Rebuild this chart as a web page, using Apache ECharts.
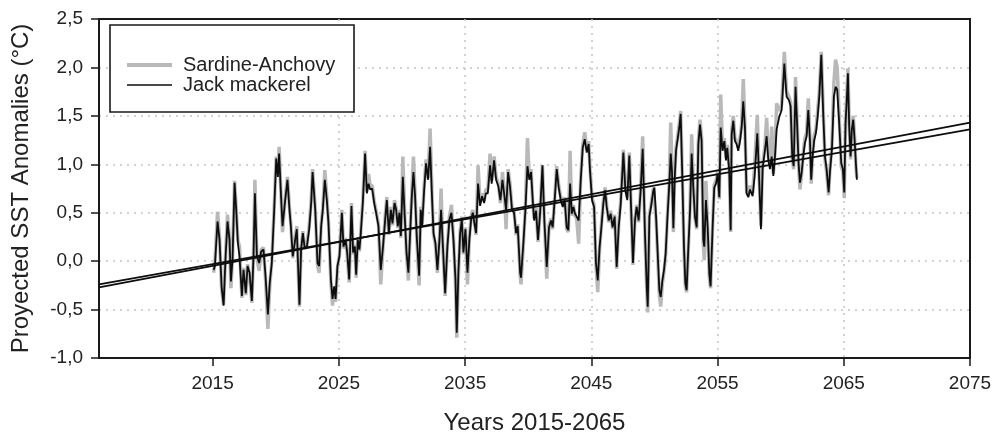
<!DOCTYPE html>
<html>
<head>
<meta charset="utf-8">
<script src="https://cdn.jsdelivr.net/npm/echarts@6/dist/echarts.min.js"></script>
<style>
  html, body { margin: 0; padding: 0; background: #fff; }
  #chart { width: 993px; height: 433px; }
</style>
</head>
<body>
<div id="chart"></div>
<script>
// Projected SST anomalies (°C), 2015-2066, two fishing regions
const years = [
  2015.08,2015.18,2015.39,2015.55,2015.71,2015.87,2016.03,2016.18,2016.34,2016.45,2016.58,2016.74,2016.87,
  2017.00,2017.13,2017.32,2017.45,2017.63,2017.77,2017.93,2018.11,2018.24,2018.35,2018.51,2018.69,2018.85,
  2019.03,2019.19,2019.38,2019.53,2019.69,2019.88,2020.04,2020.17,2020.27,2020.41,2020.54,2020.75,2020.93,
  2021.09,2021.20,2021.35,2021.54,2021.67,2021.88,2022.01,2022.15,2022.28,2022.46,2022.65,2022.81,2022.92,
  2023.13,2023.31,2023.44,2023.60,2023.73,2023.89,
  2024.05,2024.18,2024.37,2024.50,2024.63,2024.74,2024.89,
  2025.05,2025.24,2025.37,2025.53,2025.66,2025.82,
  2026.00,2026.13,2026.27,2026.37,2026.50,2026.63,2026.74,2026.90,
  2027.08,2027.22,2027.35,2027.48,2027.64,2027.80,2027.95,
  2028.14,2028.32,2028.48,2028.67,2028.80,2028.96,
  2029.12,2029.25,2029.41,2029.54,2029.67,2029.80,2029.91,
  2030.07,2030.22,2030.36,2030.51,2030.65,2030.78,2030.91,
  2031.04,2031.17,2031.36,2031.49,
  2031.60,2031.76,2031.91,
  2032.07,2032.23,2032.39,2032.50,2032.65,2032.81,2032.97,
  2033.10,2033.23,2033.42,2033.60,2033.76,2033.92,
  2034.08,2034.24,2034.34,2034.47,2034.61,2034.74,2034.87,
  2035.03,2035.19,2035.34,2035.48,2035.61,2035.74,2035.87,
  2036.03,2036.19,2036.35,2036.51,2036.64,2036.80,2036.98,
  2037.11,2037.30,2037.46,2037.64,2037.80,2037.96,
  2038.12,2038.25,2038.41,2038.56,2038.72,2038.88,
  2039.04,2039.17,2039.36,2039.43,2039.62,2039.78,2039.94,
  2040.09,2040.23,2040.36,
  2040.47,2040.62,2040.78,2040.94,
  2041.13,2041.28,2041.47,2041.65,2041.81,2041.94,
  2042.10,2042.26,2042.42,2042.58,2042.74,2042.89,
  2043.05,2043.18,2043.32,2043.45,2043.58,2043.71,2043.84,
  2044.00,2044.16,2044.32,2044.48,2044.64,2044.79,2044.90,
  2045.06,2045.22,2045.37,2045.51,2045.66,2045.80,2045.95,
  2046.09,2046.22,2046.38,2046.53,2046.69,2046.85,
  2047.01,2047.17,2047.33,2047.54,2047.70,2047.85,
  2048.01,2048.17,2048.30,2048.46,2048.59,2048.75,2048.91,
  2049.07,2049.26,2049.39,2049.47,2049.60,2049.73,2049.92,
  2050.00,2050.13,2050.26,2050.39,2050.50,2050.63,2050.76,2050.89,
  2051.02,2051.18,2051.29,2051.39,2051.50,2051.60,2051.71,2051.82,2051.97,
  2052.08,2052.21,2052.34,2052.45,2052.55,2052.69,2052.82,2052.95,
  2053.08,2053.21,2053.35,2053.48,2053.61,2053.74,2053.87,2053.95,
  2054.08,2054.22,2054.35,2054.45,2054.61,2054.74,2054.88,
  2055.01,2055.14,2055.25,2055.40,2055.54,2055.67,2055.77,2055.93,
  2056.04,2056.12,2056.25,2056.38,2056.51,2056.64,2056.78,2056.91,
  2057.04,2057.17,2057.30,2057.44,
  2057.57,2057.78,2057.94,
  2058.15,2058.28,2058.44,2058.57,2058.76,2058.89,
  2059.02,2059.15,2059.29,2059.42,2059.55,2059.68,2059.89,
  2060.08,2060.29,2060.47,2060.66,2060.79,2060.92,
  2061.03,2061.18,2061.32,2061.42,2061.53,2061.66,2061.79,2061.92,
  2062.06,2062.19,2062.32,2062.42,2062.53,2062.66,2062.79,2062.93,
  2063.06,2063.22,2063.37,2063.51,2063.64,2063.80,2063.90,
  2064.06,2064.22,2064.35,2064.48,2064.64,2064.80,2064.93,
  2065.04,2065.14,2065.25,2065.33,2065.43,2065.54,2065.64,2065.75,2065.86,2065.96,
  2066.04
];

const jackMackerel = [
  -0.09,-0.05,0.41,0.22,-0.26,-0.46,0.05,0.41,0.22,-0.21,0.02,0.81,0.53,
  0.19,0.05,-0.36,-0.09,-0.33,-0.05,-0.12,-0.41,0.05,0.70,0.05,-0.02,0.10,
  0.12,-0.15,-0.55,-0.22,-0.02,0.53,1.06,0.87,1.11,0.70,0.36,0.63,0.84,
  0.53,0.36,0.05,0.22,0.33,-0.45,0.12,0.29,0.15,0.14,0.33,0.60,0.92,
  0.53,-0.02,-0.05,0.36,0.53,0.84,
  0.63,0.39,-0.19,-0.39,-0.26,-0.39,-0.05,
  0.05,0.50,0.15,0.22,0.09,-0.19,
  0.57,0.09,0.15,-0.14,0.22,0.12,0.29,0.60,
  1.11,0.70,0.80,0.74,0.75,0.60,0.50,
  0.36,-0.09,0.12,0.43,0.63,0.29,
  0.53,0.39,0.60,0.53,0.36,0.50,0.26,
  0.87,0.46,0.09,-0.12,0.29,0.67,0.92,
  0.67,0.26,-0.15,0.53,
  0.36,0.74,1.01,
  0.84,1.18,0.63,0.29,0.19,-0.09,0.22,
  0.53,0.19,-0.33,0.15,0.43,0.50,
  0.22,-0.19,-0.74,-0.12,0.29,0.43,0.09,
  0.33,-0.12,0.22,0.43,0.50,0.39,0.29,
  0.80,0.57,0.67,0.60,0.70,0.70,0.99,
  0.80,1.04,0.84,0.77,0.63,0.84,
  0.67,0.53,0.92,0.77,0.53,0.50,
  0.29,0.36,-0.12,-0.17,0.19,0.53,0.98,
  0.84,0.92,0.63,
  0.42,0.52,0.22,0.49,
  0.99,0.42,-0.06,0.35,0.42,0.35,
  0.63,0.95,0.76,0.63,0.56,0.63,
  0.35,0.32,0.80,0.49,0.56,0.49,0.46,
  0.42,0.83,1.17,1.26,1.12,1.21,0.93,
  0.63,0.56,-0.02,-0.20,0.15,0.35,0.59,
  0.73,0.56,0.42,0.49,0.35,0.46,
  -0.06,0.35,0.59,1.12,0.73,0.63,
  1.09,0.49,-0.02,0.42,0.56,0.42,0.73,
  1.16,0.25,-0.26,-0.47,0.46,0.56,0.73,
  0.76,0.46,0.08,-0.30,-0.37,-0.20,-0.09,0.08,
  0.42,0.80,1.11,0.93,0.34,0.83,1.14,1.24,1.38,
  1.52,0.87,0.15,-0.23,-0.30,0.15,0.52,1.11,
  0.76,0.46,0.35,1.21,1.41,1.24,0.22,0.15,
  0.63,0.35,-0.13,-0.26,0.35,0.76,0.80,
  0.90,0.66,1.38,1.14,1.24,1.04,1.17,0.93,
  0.32,1.31,1.45,1.24,1.21,1.14,1.24,1.38,
  1.65,1.38,0.70,0.66,
  0.74,0.67,0.88,
  1.32,0.91,0.33,0.95,1.15,1.29,
  1.05,0.95,1.08,0.88,1.08,1.36,1.49,
  1.56,2.04,1.70,1.66,1.60,1.08,
  0.98,1.80,1.36,1.01,0.81,0.91,1.08,1.22,
  1.29,1.56,1.25,0.84,1.08,1.25,1.32,1.49,
  1.70,2.13,1.53,1.08,0.95,0.71,0.91,
  1.15,1.70,1.80,1.77,1.42,1.01,0.95,
  0.71,1.42,1.70,1.94,1.39,1.08,1.36,1.46,1.25,1.01,
  0.84
];

const sardineAnchovy = [
  -0.12,-0.02,0.51,0.25,-0.28,-0.45,0.08,0.48,0.24,-0.28,0.04,0.83,0.55,
  0.22,0.15,-0.38,-0.07,-0.35,-0.03,-0.15,-0.43,0.08,0.84,0.03,-0.10,0.12,
  0.14,-0.18,-0.70,-0.25,0.00,0.56,1.08,0.90,1.18,0.72,0.30,0.66,0.87,
  0.55,0.38,0.03,0.25,0.36,-0.47,0.14,0.31,0.13,0.16,0.36,0.63,0.95,
  0.55,-0.04,-0.12,0.38,0.55,0.94,
  0.66,0.40,-0.22,-0.46,-0.28,-0.42,-0.07,
  0.07,0.53,0.13,0.24,0.07,-0.22,
  0.60,0.07,0.17,-0.17,0.24,0.10,0.31,0.63,
  1.14,0.72,0.90,0.78,0.78,0.62,0.52,
  0.38,-0.24,0.10,0.46,0.66,0.27,
  0.56,0.37,0.63,0.55,0.34,0.53,0.24,
  1.08,0.48,0.07,-0.20,0.31,0.70,1.08,
  0.70,0.24,-0.25,0.56,
  0.38,0.78,1.05,
  0.86,1.37,0.65,0.27,0.17,-0.12,0.24,
  0.75,0.17,-0.36,0.17,0.46,0.58,
  0.24,-0.22,-0.79,-0.14,0.31,0.46,0.07,
  0.35,-0.24,0.24,0.46,0.53,0.41,0.27,
  0.99,0.60,0.70,0.62,0.74,0.74,1.11,
  0.83,1.08,0.87,0.80,0.60,0.92,
  0.70,0.33,0.95,0.80,0.55,0.52,
  0.27,0.38,-0.15,-0.24,0.17,0.56,1.27,
  0.87,0.95,0.60,
  0.44,0.55,0.20,0.52,
  0.99,0.44,-0.18,0.37,0.44,0.33,
  0.66,0.98,0.78,0.66,0.58,0.66,
  0.33,0.30,1.14,0.47,0.58,0.47,0.44,
  0.18,0.86,1.20,1.33,1.15,1.24,0.95,
  0.66,0.58,-0.05,-0.32,0.13,0.37,0.62,
  0.76,0.58,0.40,0.52,0.33,0.48,
  -0.08,0.37,0.62,1.15,0.75,0.66,
  1.12,0.47,-0.04,0.44,0.58,0.40,0.76,
  1.29,0.23,-0.30,-0.53,0.48,0.58,0.76,
  0.78,0.44,0.05,-0.35,-0.47,-0.23,-0.11,0.06,
  0.45,0.84,1.43,0.96,0.30,0.86,1.17,1.27,1.42,
  1.55,0.89,0.12,-0.26,-0.32,0.13,0.55,1.31,
  0.79,0.44,0.33,1.24,1.46,1.27,0.18,0.01,
  0.83,0.33,-0.16,-0.28,0.37,0.79,0.83,
  0.93,0.64,1.72,1.17,1.27,1.06,1.20,0.95,
  0.30,1.35,1.50,1.27,1.24,1.17,1.27,1.42,
  1.88,1.41,0.72,0.68,
  0.78,0.70,1.00,
  1.51,0.94,0.36,1.00,1.20,1.48,
  1.08,0.98,1.39,0.90,1.12,1.63,1.55,
  1.62,2.16,1.75,1.70,1.64,1.05,
  0.95,1.90,1.40,0.98,0.74,0.89,1.12,1.27,
  1.33,1.68,1.28,0.80,1.12,1.30,1.36,1.55,
  1.75,2.16,1.58,1.05,0.92,0.68,0.94,
  1.20,1.85,2.08,2.00,1.48,0.98,0.92,
  0.65,1.46,1.75,1.99,1.42,1.05,1.40,1.50,1.28,0.98,
  0.86
];

// Linear trends, end points at the axis limits
const trendYears = [2006, 2075];
const trendSardine = [-0.27, 1.43];
const trendJack = [-0.24, 1.36];

// Axis ticks
const xTicks = [2015, 2025, 2035, 2045, 2055, 2065, 2075];
const xRange = [2006, 2075];
const yRange = [-1.0, 2.5];
const yStep = 0.5;

const FONT = '"Liberation Sans", Arial, sans-serif';
const INK = '#1a1a1a';
const GREY_LINE = '#b9b9b9';
const BLACK_LINE = '#0d0d0d';

const pair = (xs, ys) => xs.map((x, i) => [x, ys[i]]);

const chart = echarts.init(document.getElementById('chart'), null, { renderer: 'canvas' });

const grid = { color: '#c4c4c4', width: 1.5, type: [2, 5] };

chart.setOption({
  animation: false,
  backgroundColor: '#ffffff',
  textStyle: { fontFamily: FONT },
  grid: {
    left: 99, right: 23, top: 19, bottom: 75,
    outerBoundsMode: 'none',
    containLabel: false,
    show: true, borderColor: INK, borderWidth: 2, backgroundColor: 'transparent'
  },
  legend: {
    orient: 'vertical',
    left: 127, top: 55,
    padding: 0,
    itemGap: 0,
    itemWidth: 45,
    itemHeight: 4,
    symbolKeepAspect: true,
    data: [
      { name: 'Sardine-Anchovy', icon: 'path://M0,0h45v4h-45z', itemStyle: { color: GREY_LINE } },
      { name: 'Jack mackerel', icon: 'path://M0,0h45v1.6h-45z', itemStyle: { color: BLACK_LINE } }
    ],
    textStyle: { fontFamily: FONT, fontSize: 20, color: '#222', lineHeight: 19, padding: [0, 0, 0, 6] },
    z: 10
  },
  graphic: [{
    type: 'rect',
    z: 8,
    shape: { x: 110, y: 25, width: 244, height: 87 },
    style: { fill: '#ffffff', stroke: INK, lineWidth: 1.6 }
  }],
  xAxis: {
    type: 'value',
    min: xRange[0], max: xRange[1],
    name: 'Years 2015-2065',
    nameLocation: 'middle',
    nameGap: 53,
    nameTextStyle: { fontFamily: FONT, fontSize: 24, color: '#222' },
    axisLine: { show: true, onZero: false, lineStyle: { color: INK, width: 2 } },
    axisTick: { show: true, length: 8, customValues: xTicks, lineStyle: { color: INK, width: 1.5 } },
    axisLabel: { customValues: xTicks, fontSize: 19, color: '#222', margin: 16, formatter: v => String(v) },
    splitLine: { show: true, showMinLine: false, showMaxLine: false, lineStyle: grid }
  },
  yAxis: {
    type: 'value',
    min: yRange[0], max: yRange[1], interval: yStep,
    name: 'Proyected SST Anomalies (°C)',
    nameLocation: 'middle',
    nameGap: 66,
    nameRotate: 90,
    nameTextStyle: { fontFamily: FONT, fontSize: 24, color: '#222' },
    axisLine: { show: true, onZero: false, lineStyle: { color: INK, width: 2 } },
    axisTick: { show: true, length: 8, lineStyle: { color: INK, width: 1.5 } },
    axisLabel: { fontSize: 19, color: '#222', margin: 16, formatter: v => v.toFixed(1).replace('.', ',') },
    splitLine: { show: true, showMinLine: false, showMaxLine: false, lineStyle: grid }
  },
  series: [
    {
      name: 'Sardine-Anchovy', type: 'line', z: 2,
      data: pair(years, sardineAnchovy),
      showSymbol: false, symbol: 'none',
      lineStyle: { color: GREY_LINE, width: 3.5 },
      itemStyle: { color: GREY_LINE }
    },
    {
      name: 'Jack mackerel', type: 'line', z: 3,
      data: pair(years, jackMackerel),
      showSymbol: false, symbol: 'none',
      lineStyle: { color: BLACK_LINE, width: 1.8 },
      itemStyle: { color: BLACK_LINE }
    },
    {
      name: 'Trend Sardine-Anchovy', type: 'line', z: 4,
      data: pair(trendYears, trendSardine),
      showSymbol: false, symbol: 'none',
      lineStyle: { color: BLACK_LINE, width: 1.8 }
    },
    {
      name: 'Trend Jack mackerel', type: 'line', z: 4,
      data: pair(trendYears, trendJack),
      showSymbol: false, symbol: 'none',
      lineStyle: { color: BLACK_LINE, width: 1.8 }
    }
  ]
});
</script>
</body>
</html>
